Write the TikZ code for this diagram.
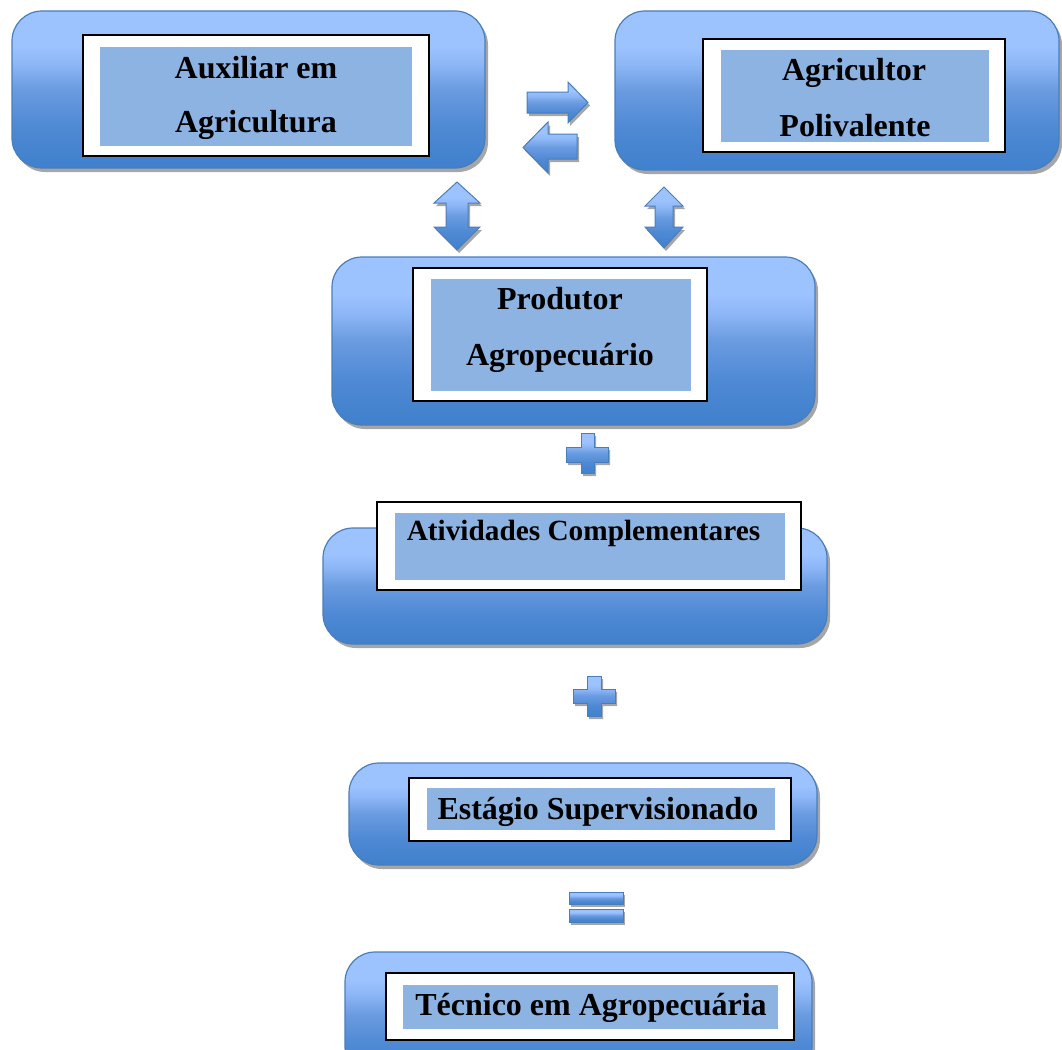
\documentclass[tikz,border=0pt]{standalone}
\usepackage{fontspec}
\setmainfont{Liberation Serif}
\usetikzlibrary{shadows}
\definecolor{blight}{RGB}{157,195,255}
\definecolor{bmidl}{RGB}{140,182,246}
\definecolor{bmid}{RGB}{106,155,224}
\definecolor{bmidd}{RGB}{78,137,212}
\definecolor{bdark}{RGB}{64,128,204}
\definecolor{bborder}{RGB}{74,126,187}
\definecolor{innerblue}{RGB}{141,179,226}
\definecolor{shadowgray}{RGB}{166,166,166}
\pgfdeclareverticalshading{boxshade}{100bp}{color(0bp)=(bdark); color(25bp)=(bdark); color(38bp)=(bmidd); color(50bp)=(bmid); color(58bp)=(bmidl); color(64bp)=(blight); color(100bp)=(blight)}
\tikzset{
  outerbox/.style={rectangle, rounded corners=30pt, draw=bborder, line width=1.2pt,
    shade, shading=boxshade,
    drop shadow={shadow xshift=3pt, shadow yshift=-4pt, fill=shadowgray, opacity=1}},
  whitebox/.style={rectangle, draw=black, line width=1.6pt, fill=white},
  bluebox/.style={rectangle, fill=innerblue},
  lbl/.style={font=\fontsize{32}{38}\selectfont\bfseries, anchor=base, inner sep=0pt},
  sym/.style={draw=bborder, line width=1pt, shade, shading=boxshade,
    drop shadow={shadow xshift=2pt, shadow yshift=-3pt, fill=shadowgray, opacity=1}}
}
\begin{document}
\begin{tikzpicture}[x=1pt,y=-1pt]
\useasboundingbox (0,0) rectangle (1062,1049);
% outer boxes
\node[outerbox, minimum width=473pt, minimum height=157pt] (o1) at (248.5,89.5) {};
\node[outerbox, minimum width=444pt, minimum height=159pt] (o2) at (837,90.5) {};
\node[outerbox, minimum width=483pt, minimum height=168pt] (op) at (573.5,341) {};
\node[outerbox, minimum width=504pt, minimum height=116pt] (oa) at (575,586) {};
\node[outerbox, minimum width=468pt, minimum height=102pt] (oe) at (583,814) {};
\node[outerbox, minimum width=467pt, minimum height=125pt] (ot) at (578.5,1014.5) {};
% white frames
\node[whitebox, minimum width=346pt, minimum height=121pt] (w1) at (256,95.5) {};
\node[whitebox, minimum width=302pt, minimum height=113pt] (w2) at (854,95.5) {};
\node[whitebox, minimum width=294pt, minimum height=133pt] (wp) at (560,334.5) {};
\node[whitebox, minimum width=424pt, minimum height=88pt] (wa) at (589,546) {};
\node[whitebox, minimum width=382pt, minimum height=63pt] (we) at (600,809.5) {};
\node[whitebox, minimum width=408pt, minimum height=67pt] (wt) at (590,1006.5) {};
% inner blue
\node[bluebox, minimum width=312pt, minimum height=99pt] (b1) at (256,96.5) {};
\node[bluebox, minimum width=268pt, minimum height=92pt] (b2) at (855,96) {};
\node[bluebox, minimum width=260pt, minimum height=112pt] (bp) at (561,335) {};
\node[bluebox, minimum width=390pt, minimum height=67pt] (ba) at (590,546.5) {};
\node[bluebox, minimum width=348pt, minimum height=42pt] (be) at (601,809) {};
\node[bluebox, minimum width=375pt, minimum height=44pt] (bt) at (590.5,1007) {};
% labels
\node[lbl] (t1a) at (256,78) {Auxiliar em};
\node[lbl] (t1b) at (256,132) {Agricultura};
\node[lbl] (t2a) at (854,80) {Agricultor};
\node[lbl] (t2b) at (855,136) {Polivalente};
\node[lbl] (tpa) at (560,309) {Produtor};
\node[lbl] (tpb) at (560,365) {Agropecuário};
\node[lbl, font=\fontsize{29.3}{35}\selectfont\bfseries] (ta) at (583.5,540) {Atividades Complementares};
\node[lbl] (te) at (598,819) {Estágio Supervisionado};
\node[lbl] (tt) at (591,1015) {Técnico em Agropecuária};
% left/right arrows
\path[sym] (527,92) -- (568,92) -- (568,82) -- (588,102.5) -- (568,123) -- (568,113) -- (527,113) -- cycle;
\path[sym] (577,134) -- (548,134) -- (548,122) -- (523,147.5) -- (548,173) -- (548,159) -- (577,159) -- cycle;
% up-down arrows
\path[sym] (457,182) -- (480,203) -- (468,203) -- (468,227) -- (480,227) -- (457,250) -- (434,227) -- (446,227) -- (446,203) -- (434,203) -- cycle;
\path[sym] (664,187) -- (683,206) -- (673,206) -- (673,227) -- (683,227) -- (664,248) -- (645,227) -- (655,227) -- (655,206) -- (645,206) -- cycle;
% plus signs
\path[sym] (581,433) -- (594,433) -- (594,447) -- (608,447) -- (608,462) -- (594,462) -- (594,473) -- (581,473) -- (581,462) -- (566,462) -- (566,447) -- (581,447) -- cycle;
\path[sym] (587,676) -- (601,676) -- (601,689) -- (615,689) -- (615,703) -- (601,703) -- (601,716) -- (587,716) -- (587,703) -- (573,703) -- (573,689) -- (587,689) -- cycle;
% equals sign
\path[sym] (569,892) rectangle (623,904);
\path[sym] (569,909) rectangle (623,922);
\end{tikzpicture}
\end{document}
